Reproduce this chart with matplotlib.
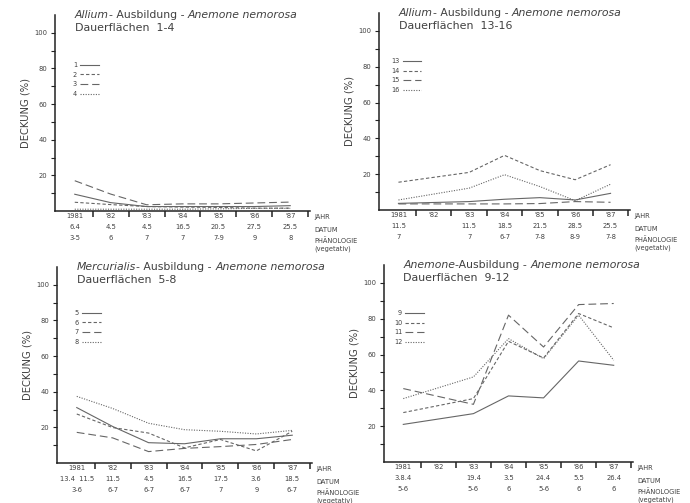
import matplotlib
matplotlib.use("Agg")
import matplotlib.pyplot as plt
from matplotlib.ticker import FixedLocator, NullFormatter

# ---------------- data ----------------
years = ["1981", "'82", "'83", "'84", "'85", "'86", "'87"]

# Panel A: Allium-Ausbildung, Dauerflächen 1-4
dates_a = ["6.4", "4.5", "4.5", "16.5", "20.5", "27.5", "25.5"]
pheno_a = ["3-5", "6", "7", "7", "7-9", "9", "8"]
years_idx_a = [0, 1, 2, 3, 4, 5, 6]
cover_1 = [9.4, 4.7, 2.5, 2.5, 2.5, 2.5, 3.0]
cover_2 = [4.9, 3.6, 2.5, 2.2, 2.0, 1.6, 1.6]
cover_3 = [17.0, 9.5, 3.5, 4.0, 4.0, 4.5, 5.0]
cover_4 = [1.0, 1.0, 1.0, 1.0, 1.2, 1.5, 1.5]

# Panel B: Allium-Ausbildung, Dauerflächen 13-16 (no survey 1982)
dates_b = ["11.5", "", "11.5", "18.5", "21.5", "28.5", "25.5"]
pheno_b = ["7", "", "7", "6-7", "7-8", "8-9", "7-8"]
years_idx_b = [0, 2, 3, 4, 5, 6]
cover_13 = [3.7, 4.7, 6.0, 6.9, 5.6, 9.3]
cover_14 = [15.5, 21.0, 30.5, 22.0, 16.9, 25.3]
cover_15 = [3.4, 3.4, 3.4, 3.6, 4.7, 4.3]
cover_16 = [5.6, 12.2, 19.7, 13.1, 5.2, 14.4]

# Panel C: Mercurialis-Ausbildung, Dauerflächen 5-8
dates_c = ["13.4  11.5", "11.5", "4.5", "16.5", "17.5", "3.6", "18.5"]
pheno_c = ["3-6", "6-7", "6-7", "6-7", "7", "9", "6-7"]
years_idx_c = [0, 1, 2, 3, 4, 5, 6]
cover_5 = [31.1, 20.5, 11.4, 10.8, 13.6, 13.6, 15.6]
cover_6 = [27.5, 19.9, 16.8, 8.5, 13.2, 6.8, 17.8]
cover_7 = [17.2, 14.1, 6.4, 8.2, 9.2, 10.4, 13.2]
cover_8 = [37.4, 30.6, 22.3, 18.7, 17.8, 16.3, 18.3]

# Panel D: Anemone-Ausbildung, Dauerflächen 9-12 (no survey 1982)
dates_d = ["3.8.4", "", "19.4", "3.5", "24.4", "5.5", "26.4"]
pheno_d = ["5-6", "", "5-6", "6", "5-6", "6", "6"]
years_idx_d = [0, 2, 3, 4, 5, 6]
cover_9 = [21.0, 27.0, 36.9, 35.8, 56.4, 54.0]
cover_10 = [27.6, 35.4, 67.4, 58.1, 82.9, 74.9]
cover_11 = [41.0, 32.2, 82.0, 64.2, 87.9, 88.5]
cover_12 = [35.4, 47.5, 68.9, 57.7, 82.0, 56.8]

row_labels = ["JAHR", "DATUM", "PHÄNOLOGIE", "(vegetativ)"]

# ---------------- styling ----------------
plt.rcParams['font.family'] = ['DejaVu Sans']
TXT = "#404040"
LINE = "#666666"
AXC = "#222222"
styles = [dict(ls='-'), dict(ls=(0, (3, 2))), dict(ls=(0, (7, 3.5))), dict(ls=(0, (1, 1.3)))]

W, H = 690, 503
fig = plt.figure(figsize=(W / 100, H / 100), dpi=100)
fig.patch.set_facecolor('white')


def ax_at(l, t, r, b):
    return fig.add_axes([l / W, 1 - b / H, (r - l) / W, (b - t) / H])


def title(ax, parts, line2, x=0.078, y1=1.0, y2=0.933):
    prev = None
    for txt, it in parts:
        kw = dict(fontsize=7.8, color=TXT, style='italic' if it else 'normal',
                  va='center', ha='left')
        if prev is None:
            prev = ax.text(x, y1, txt, transform=ax.transAxes, **kw)
        else:
            prev = ax.annotate(txt, xy=(1, 0.5), xycoords=prev, **kw)
    ax.text(x, y2, line2, transform=ax.transAxes, fontsize=7.9, color=TXT,
            va='center', ha='left')


def panel(box, xs, series, labels, dates, pheno, ttl, line2, leg_anchor):
    ax = ax_at(*box)
    for vals, lab, st in zip(series, labels, styles):
        ax.plot(xs, vals, color=LINE, lw=0.8, label=lab, **st)
    ax.set_xlim(-0.55, 6.55)
    ax.set_ylim(0, 110)
    for s in ['top', 'right']:
        ax.spines[s].set_visible(False)
    for s in ['left', 'bottom']:
        ax.spines[s].set_color(AXC)
        ax.spines[s].set_linewidth(1.1)
    # y ticks
    ax.yaxis.set_major_locator(FixedLocator([20, 40, 60, 80, 100]))
    ax.yaxis.set_minor_locator(FixedLocator([10, 30, 50, 70, 90]))
    ax.tick_params(axis='y', which='both', direction='out', length=3, width=0.8,
                   colors=AXC, labelsize=4.9, labelcolor=TXT, pad=2.5)
    # x ticks: boundaries as major, column centres (labels) as minor
    ax.xaxis.set_major_locator(FixedLocator([0.5, 1.5, 2.5, 3.5, 4.5, 5.5, 6.5]))
    ax.xaxis.set_major_formatter(NullFormatter())
    ax.xaxis.set_minor_locator(FixedLocator(list(range(7))))
    ax.set_xticklabels([f"{y}\n{d}\n{p}" for y, d, p in zip(years, dates, pheno)],
                       minor=True)
    ax.tick_params(axis='x', which='major', direction='out', length=4, width=1.1,
                   colors=AXC)
    ax.tick_params(axis='x', which='minor', length=0, labelsize=4.9,
                   labelcolor=TXT, pad=1.6)
    for lbl in ax.get_xticklabels(minor=True):
        lbl.set_linespacing(1.95)
        lbl.set_va('top')
    ax.set_ylabel("DECKUNG (%)", fontsize=7.2, color=TXT, labelpad=2.5)
    # row labels on the right
    offs = [-4.3, -13.6, -21.6, -27.4]
    for lab, dy in zip(row_labels, offs):
        ax.annotate(lab, xy=(1, 0), xycoords='axes fraction', xytext=(3.5, dy),
                    textcoords='offset points', fontsize=4.8, color=TXT,
                    ha='left', va='center', annotation_clip=False)
    title(ax, ttl, line2)
    leg = ax.legend(loc='upper left', bbox_to_anchor=leg_anchor, frameon=False,
                    fontsize=4.7, markerfirst=False, handlelength=2.8,
                    handletextpad=0.5, labelspacing=0.55, borderpad=0,
                    borderaxespad=0)
    for t in leg.get_texts():
        t.set_color(TXT)
    return ax


panel((55, 15, 310, 211), years_idx_a, [cover_1, cover_2, cover_3, cover_4],
      ["1", "2", "3", "4"], dates_a, pheno_a,
      [("Allium", True), ("- Ausbildung - ", False), ("Anemone nemorosa", True)],
      "Dauerflächen  1-4", (0.07, 0.76))

panel((379, 13, 630, 210), years_idx_b, [cover_13, cover_14, cover_15, cover_16],
      ["13", "14", "15", "16"], dates_b, pheno_b,
      [("Allium", True), ("- Ausbildung - ", False), ("Anemone nemorosa", True)],
      "Dauerflächen  13-16", (0.05, 0.77))

panel((57, 267, 312, 463), years_idx_c, [cover_5, cover_6, cover_7, cover_8],
      ["5", "6", "7", "8"], dates_c, pheno_c,
      [("Mercurialis", True), ("- Ausbildung - ", False), ("Anemone nemorosa", True)],
      "Dauerflächen  5-8", (0.07, 0.78))

panel((384, 265, 633, 462), years_idx_d, [cover_9, cover_10, cover_11, cover_12],
      ["9", "10", "11", "12"], dates_d, pheno_d,
      [("Anemone", True), ("-Ausbildung - ", False), ("Anemone nemorosa", True)],
      "Dauerflächen  9-12", (0.04, 0.77))

fig.savefig("out.png", dpi=100, facecolor='white')
